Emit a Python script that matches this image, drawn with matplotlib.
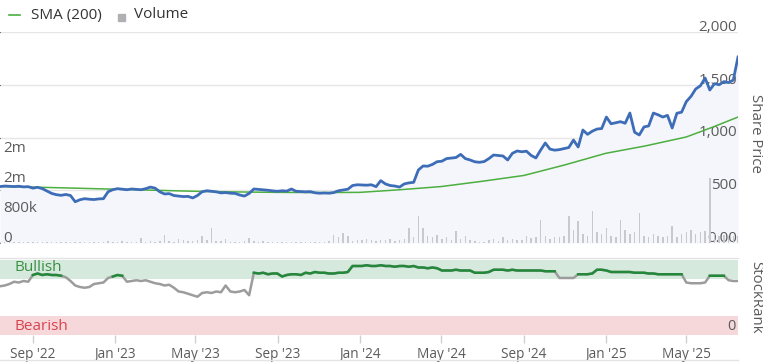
import matplotlib
matplotlib.use("Agg")
import matplotlib.pyplot as plt
import matplotlib.dates as mdates
import matplotlib.transforms as mtrans
from matplotlib.lines import Line2D
from matplotlib.patches import Rectangle
import numpy as np
import pandas as pd

plt.rcParams['font.family'] = ['Open Sans', 'DejaVu Sans']

# ---------------- data ----------------
dates = list(pd.date_range("2022-07-14", periods=157, freq="7D")) + [pd.Timestamp("2025-07-17")]

price = [535, 540, 537, 535, 538, 532, 534, 520, 528, 515,
         493, 470, 458, 452, 460, 450, 391, 410, 420, 415,
         412, 418, 420, 486, 505, 515, 510, 505, 512, 508,
         505, 515, 530, 520, 485, 465, 468, 450, 445, 440,
         442, 427, 450, 486, 495, 490, 485, 475, 478, 472,
         470, 455, 445, 470, 512, 508, 505, 500, 494, 490,
         495, 492, 512, 490, 488, 485, 487, 476, 472, 474,
         472, 478, 495, 502, 510, 545, 552, 550, 548, 552,
         534, 591, 560, 545, 540, 530, 560, 570, 575, 692,
         730, 728, 745, 771, 775, 800, 805, 810, 840, 800,
         787, 770, 765, 772, 800, 834, 830, 825, 787, 850,
         872, 865, 870, 830, 806, 880, 948, 890, 880, 885,
         895, 905, 976, 910, 1071, 1030, 1060, 1080, 1085, 1194,
         1130, 1140, 1150, 1135, 1232, 1050, 1024, 1100, 1110, 1232,
         1215, 1194, 1210, 1090, 1230, 1240, 1340, 1390, 1460, 1490,
         1564, 1450, 1510, 1500, 1530, 1520, 1545, 1763]

sma_dates = ["2022-07-14", "2022-09-01", "2022-11-01", "2023-01-01", "2023-03-01",
             "2023-05-01", "2023-07-01", "2023-09-01", "2023-11-01", "2024-01-01",
             "2024-03-01", "2024-05-01", "2024-07-01", "2024-09-01", "2024-11-01",
             "2025-01-01", "2025-03-01", "2025-05-01", "2025-06-10", "2025-07-17"]
sma = [535, 530, 520, 510, 500, 490, 484, 480, 478, 480,
       505, 535, 585, 640, 740, 850, 920, 1005, 1100, 1194]

volume_k = [30, 20, 25, 15, 40, 20, 30, 25, 20, 35,
            25, 20, 15, 25, 30, 20, 40, 25, 30, 20,
            35, 30, 25, 60, 40, 30, 50, 35, 40, 30,
            130, 40, 50, 30, 60, 220, 45, 40, 110, 80,
            60, 60, 90, 190, 80, 400, 60, 50, 110, 40,
            35, 30, 45, 130, 60, 40, 50, 35, 30, 40,
            25, 30, 35, 25, 40, 30, 25, 30, 40, 35,
            60, 210, 150, 280, 200, 60, 90, 70, 100, 80,
            60, 70, 90, 120, 60, 70, 120, 400, 150, 720,
            400, 200, 160, 220, 120, 150, 90, 330, 110, 200,
            90, 60, 40, 30, 80, 120, 60, 150, 90, 110,
            80, 90, 200, 130, 150, 620, 200, 120, 160, 150,
            180, 720, 350, 600, 250, 200, 850, 300, 250, 400,
            200, 150, 620, 350, 250, 300, 800, 200, 150, 250,
            200, 150, 200, 450, 150, 250, 300, 350, 250, 300,
            330, 1730, 250, 200, 220, 180, 200, 200]

stockrank = [65, 66, 68, 71, 70, 72, 71, 80, 82, 80,
             81, 80, 80, 79, 77, 72, 66, 64, 63, 64,
             68, 69, 70, 76, 78, 80, 79, 71, 72, 73,
             72, 73, 71, 69, 68, 66, 67, 63, 58, 57,
             55, 53, 51, 56, 57, 56, 58, 57, 66, 58,
             57, 58, 60, 53, 83, 82, 83, 81, 82, 82,
             78, 80, 81, 81, 80, 83, 82, 84, 83, 83,
             82, 82, 83, 83, 84, 92, 92, 92, 93, 92,
             92, 93, 92, 92, 91, 92, 92, 91, 92, 90,
             90, 89, 90, 89, 86, 86, 86, 87, 86, 86,
             86, 83, 83, 83, 84, 87, 87, 87, 86, 87,
             86, 86, 86, 86, 86, 86, 85, 85, 85, 76,
             76, 76, 76, 81, 81, 81, 82, 87, 87, 86,
             84, 84, 84, 84, 84, 83, 83, 83, 82, 82,
             81, 81, 81, 81, 81, 81, 70, 69, 69, 69,
             70, 79, 79, 79, 79, 73, 72, 72]

price_ticks = [0, 500, 1000, 1500, 2000]
price_tick_labels = ["0.00", "500", "1,000", "1,500", "2,000"]
vol_ticks = [0, 800000, 1600000, 2400000]
vol_tick_labels = ["0", "800k", "2m", "2m"]

# ---------------- style ----------------
W, H = 763, 362
C_PRICE = "#3e6db8"
C_SMA = "#4caf3f"
C_FILL = "#f4f6fb"
C_VOL = "#c9c9cd"
C_GRID = "#e6e6e6"
C_TXT = "#5b5b5b"
C_BULL = "#d5e9dc"
C_BEAR = "#f6d7da"
C_RANK_G = "#23883a"
C_RANK_N = "#9c9c9c"
FS = 9.5
FS_Y = 11

x = mdates.date2num(dates)
xlim = (x[0], x[-1])

fig = plt.figure(figsize=(W / 100, H / 100), dpi=100)
fig.patch.set_facecolor("white")

def fx(px):
    return px / W

def fy(py):
    return 1 - py / H

ax_left, ax_right = 0, 738
main_top, main_bot = 32, 243
ax = fig.add_axes([fx(ax_left), fy(main_bot), fx(ax_right - ax_left), (main_bot - main_top) / H])
ax.set_xlim(*xlim)
ax.set_ylim(0, 2000)
ax.fill_between(x, price, 0, color=C_FILL, lw=0, zorder=1)
ax.set_yticks(price_ticks)
ax.yaxis.grid(True, color=C_GRID, lw=1)
ax.set_axisbelow(True)
ax.tick_params(left=False, bottom=False, labelleft=False, labelbottom=False)
for s in ax.spines.values():
    s.set_visible(False)
trans_p = mtrans.blended_transform_factory(ax.transAxes, ax.transData)
off = mtrans.offset_copy(trans_p, fig=fig, x=0, y=-2, units="points")
for v, lab in zip(price_ticks, price_tick_labels):
    ax.text(0.999, v, lab, transform=off, ha="right", va="bottom", fontsize=FS_Y,
            color=C_TXT, clip_on=False, zorder=10)

# volume axis
axv = ax.twinx()
axv.set_ylim(0, 5.63e6)
axv.bar(x, np.array(volume_k) * 1000, width=2.2, color=C_VOL, lw=0, zorder=2)
axv.set_axis_off()
trans_v = mtrans.blended_transform_factory(axv.transAxes, axv.transData)
offv = mtrans.offset_copy(trans_v, fig=fig, x=0, y=-2, units="points")
for v, lab in zip(vol_ticks, vol_tick_labels):
    axv.text(0.004, v, lab, transform=offv, ha="left", va="bottom", fontsize=FS_Y,
             color=C_TXT, clip_on=False, zorder=10)

# price lines
axl = ax.twinx()
axl.set_ylim(0, 2000)
axl.set_xlim(*xlim)
axl.plot(mdates.date2num(pd.to_datetime(sma_dates)), sma, color=C_SMA, lw=1.1, zorder=3)
axl.plot(x, price, color=C_PRICE, lw=2.0, zorder=4, solid_joinstyle="round")
axl.set_axis_off()

# ---------------- StockRank panel ----------------
r_top, r_bot = 260, 335
axr = fig.add_axes([fx(ax_left), fy(r_bot), fx(ax_right - ax_left), (r_bot - r_top) / H])
axr.set_xlim(*xlim)
axr.set_ylim(0, 100)
axr.axhspan(75, 100, color=C_BULL, lw=0, zorder=0)
axr.axhspan(0, 25, color=C_BEAR, lw=0, zorder=0)
sr = np.array(stockrank, dtype=float)
axr.plot(x, sr, color=C_RANK_N, lw=1.8, zorder=2)
green = np.where(sr >= 78, sr, np.nan)
axr.plot(x, green, color=C_RANK_G, lw=1.8, zorder=3)
for s in axr.spines.values():
    s.set_visible(False)
axr.set_yticks([])
axr.xaxis.set_major_locator(mdates.MonthLocator(bymonth=[1, 5, 9]))
axr.xaxis.set_major_formatter(mdates.DateFormatter("%b '%y"))
axr.tick_params(axis="x", direction="out", length=6, width=1, color="#d0d0d0",
                labelsize=FS + 0.3, labelcolor=C_TXT, pad=2.5)
tr_r = mtrans.blended_transform_factory(axr.transAxes, axr.transData)
axr.text(0.019, 90, "Bullish", transform=tr_r,
         ha="left", va="center", fontsize=FS_Y, color="#3a8f45", zorder=1)
axr.text(0.019, 11, "Bearish", transform=tr_r,
         ha="left", va="center", fontsize=FS_Y, color="#d9434f", zorder=1)
axr.text(0.997, 11, "0", transform=tr_r,
         ha="right", va="center", fontsize=FS_Y - 0.5, color=C_TXT)

# separator lines
fig.add_artist(Line2D([fx(0), fx(738)], [fy(258), fy(258)], color="#e4e4e4", lw=1))
fig.add_artist(Line2D([fx(0), fx(738)], [fy(359.5), fy(359.5)], color="#e4e4e4", lw=1))

# axis titles
fig.text(fx(755), fy(133), "Share Price", rotation=270, ha="center", va="center",
         fontsize=FS + 1.3, color=C_TXT)
fig.text(fx(756), fy(297), "StockRank", rotation=270, ha="center", va="center",
         fontsize=FS + 1.3, color=C_TXT)

# legend
fig.add_artist(Line2D([fx(9), fx(20)], [fy(15), fy(15)], color=C_SMA, lw=1.2))
fig.text(fx(31), fy(15), "SMA (200)", ha="left", va="center", fontsize=FS_Y, color="#333333")
fig.add_artist(Rectangle((fx(118), fy(21)), fx(6.5), 6.5 / H, color="#b0b0b4", transform=fig.transFigure))
fig.text(fx(134), fy(15), "Volume", ha="left", va="center", fontsize=FS_Y, color="#333333")

fig.savefig("out.png", dpi=100, facecolor="white")
